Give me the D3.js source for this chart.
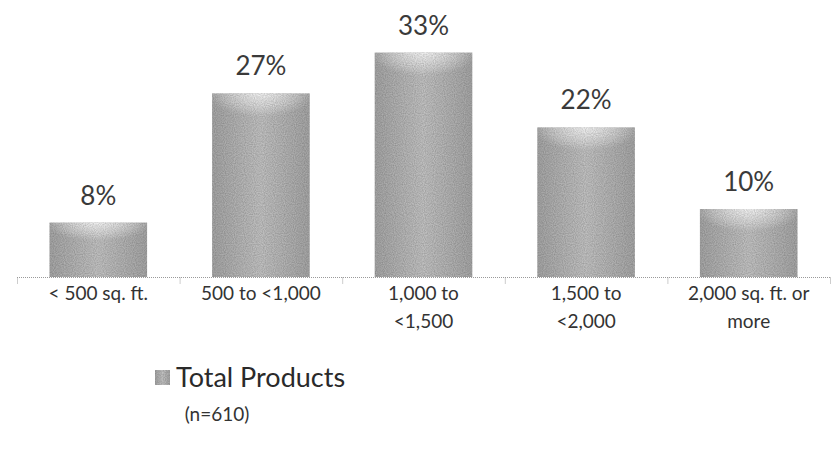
<!DOCTYPE html>
<html>
<head>
<meta charset="utf-8">
<script src="https://cdn.jsdelivr.net/npm/d3@7"></script>
<style>
  html, body { margin: 0; padding: 0; background: #fff; }
  svg { display: block; font-family: Lato, "Open Sans", sans-serif; }
</style>
</head>
<body>
<svg id="chart" width="834" height="455"></svg>
<script>
// Share of products by floor area
const categories = ["< 500 sq. ft.", "500 to <1,000", "1,000 to\n<1,500", "1,500 to\n<2,000", "2,000 sq. ft. or\nmore"];
const shares = [8, 27, 33, 22, 10];
const seriesName = "Total Products";
const sampleNote = "(n=610)";

const svg = d3.select("#chart");
const defs = svg.append("defs");

// grainy grey fill with a pale arch near the top
const side = defs.append("linearGradient").attr("id", "barSide").attr("x1", 0).attr("x2", 1).attr("y1", 0).attr("y2", 0);
side.append("stop").attr("offset", "0%").attr("stop-color", "#a9a9a9");
side.append("stop").attr("offset", "50%").attr("stop-color", "#c6c6c6");
side.append("stop").attr("offset", "100%").attr("stop-color", "#a9a9a9");

const glow = defs.append("radialGradient").attr("id", "barGlow")
  .attr("cx", 0.5).attr("cy", 0).attr("r", 0.55).attr("gradientUnits", "objectBoundingBox")
  .attr("gradientTransform", "translate(0.5,0) scale(1,0.6) translate(-0.5,0)");
glow.append("stop").attr("offset", "0%").attr("stop-color", "#ffffff").attr("stop-opacity", 0.9);
glow.append("stop").attr("offset", "70%").attr("stop-color", "#ffffff").attr("stop-opacity", 0.3);
glow.append("stop").attr("offset", "100%").attr("stop-color", "#ffffff").attr("stop-opacity", 0);

const grain = defs.append("filter").attr("id", "grain").attr("x", 0).attr("y", 0).attr("width", 1).attr("height", 1);
grain.append("feTurbulence").attr("type", "fractalNoise").attr("baseFrequency", 0.9).attr("numOctaves", 1).attr("seed", 3).attr("result", "noise");
grain.append("feColorMatrix").attr("in", "noise").attr("type", "matrix")
  .attr("values", "0 0 0 0 0  0 0 0 0 0  0 0 0 0 0  0 0 0 0.6 -0.1").attr("result", "dots");
grain.append("feComposite").attr("in", "dots").attr("in2", "SourceGraphic").attr("operator", "in").attr("result", "clipped");
const merge = grain.append("feMerge");
merge.append("feMergeNode").attr("in", "SourceGraphic");
merge.append("feMergeNode").attr("in", "clipped");

const x = d3.scaleBand().domain(categories).range([17, 830]).paddingInner(0.4).paddingOuter(0.2);
const y = d3.scaleLinear().domain([0, 35]).range([277, 39]);

// bars
const bars = svg.append("g").selectAll("g").data(categories).join("g").attr("filter", "url(#grain)");
bars.append("rect")
  .attr("x", d => x(d)).attr("width", x.bandwidth())
  .attr("y", (d, i) => y(shares[i])).attr("height", (d, i) => y(0) - y(shares[i]))
  .attr("fill", "url(#barSide)");
bars.append("rect")
  .attr("x", d => x(d)).attr("width", x.bandwidth())
  .attr("y", (d, i) => y(shares[i])).attr("height", (d, i) => Math.min(y(0) - y(shares[i]), 70))
  .attr("fill", "url(#barGlow)");

// value labels
svg.append("g").selectAll("text").data(categories).join("text")
  .attr("x", d => x(d) + x.bandwidth() / 2)
  .attr("y", (d, i) => y(shares[i]) - 18)
  .attr("text-anchor", "middle")
  .attr("font-size", 26).attr("fill", "#3a3a3a")
  .text((d, i) => shares[i] + "%");

// category axis: dotted baseline with ticks at band boundaries
const axis = svg.append("g").attr("stroke", "#9a9a9a").attr("stroke-width", 1).attr("stroke-dasharray", "1,1");
axis.append("line").attr("x1", 17).attr("x2", 830).attr("y1", 277.5).attr("y2", 277.5);
const bounds = categories.map(d => x(d) - x.step() * x.paddingInner() / 2).concat([830]);
bounds[0] = 17;
axis.selectAll("line.tick").data(bounds).join("line").attr("class", "tick")
  .attr("x1", d => d + 0.5).attr("x2", d => d + 0.5).attr("y1", 277.5).attr("y2", 284);

const labels = svg.append("g").selectAll("text").data(categories).join("text")
  .attr("x", d => x(d) + x.bandwidth() / 2)
  .attr("y", 300)
  .attr("text-anchor", "middle")
  .attr("font-size", 19).attr("fill", "#333");
labels.each(function(d) {
  const t = d3.select(this);
  d.split("\n").forEach((line, k) => {
    t.append("tspan").attr("x", x(d) + x.bandwidth() / 2).attr("dy", k === 0 ? 0 : 28).text(line);
  });
});

// legend
const legend = svg.append("g");
legend.append("rect").attr("x", 155).attr("y", 370).attr("width", 15).attr("height", 15)
  .attr("fill", "url(#barSide)").attr("filter", "url(#grain)");
legend.append("text").attr("x", 176).attr("y", 387).attr("font-size", 27).attr("fill", "#2a2a2a").text(seriesName);
legend.append("text").attr("x", 217).attr("y", 421).attr("text-anchor", "middle").attr("font-size", 19).attr("fill", "#333").text(sampleNote);
</script>
</body>
</html>
